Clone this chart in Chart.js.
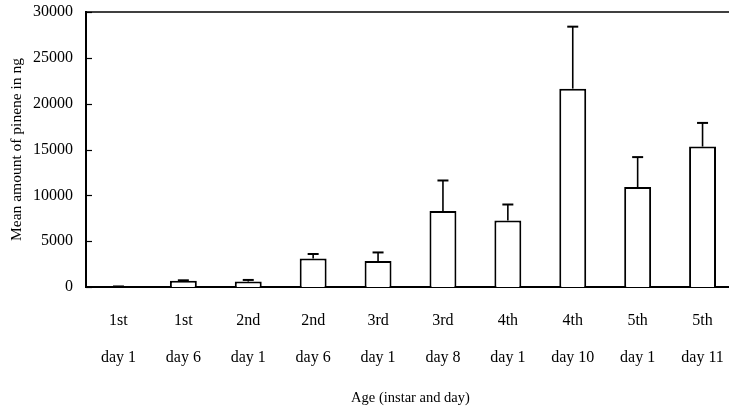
<!DOCTYPE html>
<html>
<head>
<meta charset="utf-8">
<script src="https://cdn.jsdelivr.net/npm/chart.js@4.4.1/dist/chart.umd.min.js"></script>
<style>
  html, body { margin: 0; padding: 0; background: #fff; overflow: hidden; }
  #wrap { width: 740px; height: 409px; }
</style>
</head>
<body>
<div id="wrap"><canvas id="c" width="740" height="409"></canvas></div>
<script>
const categories = [["1st","day 1"],["1st","day 6"],["2nd","day 1"],["2nd","day 6"],["3rd","day 1"],["3rd","day 8"],["4th","day 1"],["4th","day 10"],["5th","day 1"],["5th","day 11"]];
const meanValues = [0, 690, 590, 3120, 2830, 8280, 7260, 21640, 10900, 15320];
const errorValues = [60, 40, 180, 480, 940, 3340, 1740, 6760, 3270, 2580];
const yTicks = [0, 5000, 10000, 15000, 20000, 25000, 30000];

const FONT = "'Liberation Serif', 'Times New Roman', serif";

const decorPlugin = {
  id: 'decor',
  afterDatasetsDraw(chart) {
    const ctx = chart.ctx;
    const ys = chart.scales.y;
    const meta = chart.getDatasetMeta(0);
    const area = chart.chartArea;
    ctx.save();
    ctx.strokeStyle = '#000';
    ctx.lineWidth = 1.6;
    meta.data.forEach((bar, i) => {
      const x = bar.x;
      const yv = ys.getPixelForValue(meanValues[i]);
      const ye = ys.getPixelForValue(meanValues[i] + errorValues[i]);
      ctx.beginPath();
      ctx.moveTo(x, yv);
      ctx.lineTo(x, ye);
      ctx.stroke();
      ctx.lineWidth = 2;
      ctx.beginPath();
      ctx.moveTo(x - 5.5, ye);
      ctx.lineTo(x + 5.5, ye);
      ctx.stroke();
      ctx.lineWidth = 1.6;
    });
    ctx.lineWidth = 1.2;
    yTicks.forEach(v => {
      const y = Math.round(ys.getPixelForValue(v)) + 0.5;
      ctx.beginPath();
      ctx.moveTo(area.left, y);
      ctx.lineTo(area.left + 6, y);
      ctx.stroke();
    });
    ctx.lineWidth = 1.5;
    ctx.beginPath();
    ctx.moveTo(area.left, area.top);
    ctx.lineTo(area.right + 10, area.top);
    ctx.stroke();
    ctx.restore();
  }
};

new Chart(document.getElementById('c'), {
  type: 'bar',
  data: {
    labels: categories,
    datasets: [{
      data: meanValues,
      backgroundColor: '#fff',
      borderColor: '#000',
      borderWidth: 2,
      barPercentage: 0.83,
      categoryPercentage: 0.5
    }]
  },
  options: {
    responsive: false,
    animation: false,
    events: [],
    layout: { padding: { top: 12, right: 5, bottom: 0, left: 0 } },
    plugins: { legend: { display: false }, tooltip: { enabled: false } },
    scales: {
      x: {
        grid: { display: false, drawTicks: false },
        border: { display: true, color: '#000', width: 2 },
        ticks: {
          color: '#000',
          font: { family: FONT, size: 16, lineHeight: 2.3125 },
          padding: 15.5,
          maxRotation: 0,
          autoSkip: false
        },
        title: {
          display: true,
          text: 'Age (instar and day)',
          color: '#000',
          font: { family: FONT, size: 14.5 },
          padding: { top: 0, bottom: 2 }
        },
        afterFit(s) { s.height = 122; s.paddingLeft = 0; s.paddingRight = 0; }
      },
      y: {
        min: 0,
        max: 30000,
        grid: { display: false, drawTicks: false },
        border: { display: true, color: '#000', width: 2 },
        afterBuildTicks(s) { s.ticks = yTicks.map(v => ({ value: v })); },
        ticks: {
          color: '#000',
          font: { family: FONT, size: 16 },
          padding: 13,
          callback: v => String(v)
        },
        title: {
          display: true,
          text: 'Mean amount of pinene in ng',
          color: '#000',
          font: { family: FONT, size: 15.5 },
          padding: { top: 8, bottom: 0 }
        },
        afterFit(s) { s.width = 86; s.paddingTop = 0; s.paddingBottom = 0; }
      }
    }
  },
  plugins: [decorPlugin]
});
</script>
</body>
</html>
